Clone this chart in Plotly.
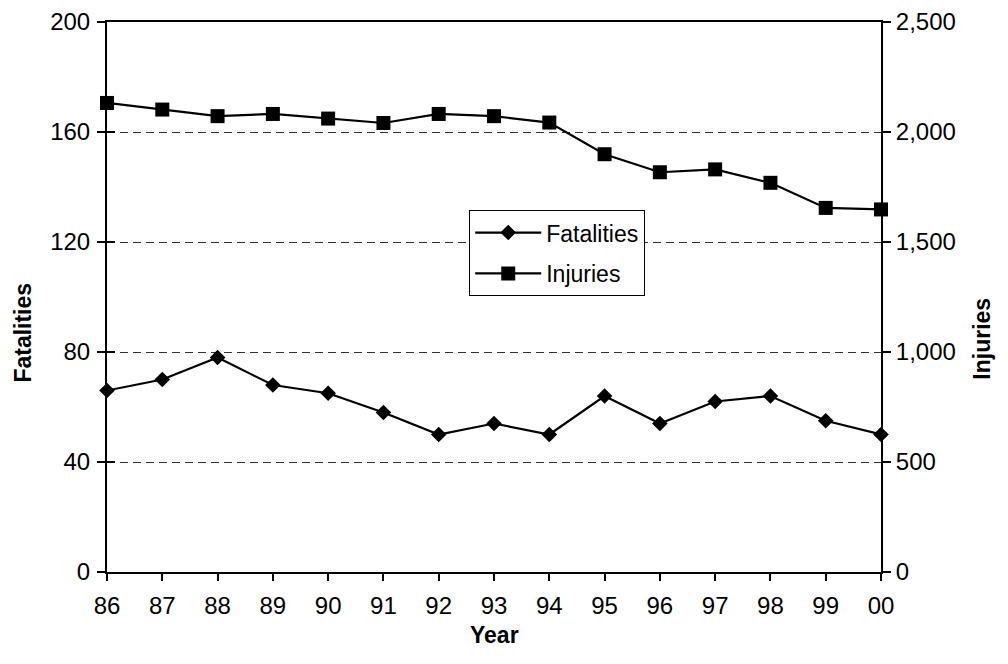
import plotly.graph_objects as go

years = ["86", "87", "88", "89", "90", "91", "92", "93", "94", "95", "96", "97", "98", "99", "00"]
fatalities = [66, 70, 78, 68, 65, 58, 50, 54, 50, 64, 54, 62, 64, 55, 50]
injuries = [2132, 2102, 2072, 2082, 2061, 2041, 2082, 2072, 2043, 1899, 1817, 1830, 1769, 1655, 1648]

fat_ticks = [0, 40, 80, 120, 160, 200]
inj_ticks = [0, 500, 1000, 1500, 2000, 2500]

font = "Liberation Sans, Arial, sans-serif"
TICK = 24
LEG = 23
TIT = 23

fig = go.Figure()
fig.add_trace(go.Scatter(
    x=years, y=fatalities, name="Fatalities", mode="lines+markers",
    line=dict(color="black", width=2.2), legendgroup="f",
    marker=dict(symbol="diamond", size=12, color="black"),
    cliponaxis=False, yaxis="y"))
fig.add_trace(go.Scatter(
    x=years, y=injuries, name="Injuries", mode="lines+markers",
    line=dict(color="black", width=2.2), legendgroup="i",
    marker=dict(symbol="square", size=14, color="black"),
    cliponaxis=False, yaxis="y2"))
# invisible helper trace so the inner half of the left-axis cross ticks is drawn
fig.add_trace(go.Scatter(
    x=years, y=fatalities, mode="lines", line=dict(width=0, color="rgba(0,0,0,0)"),
    showlegend=False, hoverinfo="skip", yaxis="y3"))

fig.update_layout(
    width=1008, height=664,
    margin=dict(l=99, r=135, t=14, b=100),
    paper_bgcolor="white", plot_bgcolor="white",
    font=dict(family=font, size=TICK, color="black"),
    showlegend=True,
    legend=dict(x=0.468, y=0.658, xanchor="left", yanchor="top",
                bordercolor="black", borderwidth=1, bgcolor="white",
                font=dict(size=LEG), itemwidth=66, tracegroupgap=8, traceorder="grouped"),
    xaxis=dict(type="category", range=[0, 14], showline=True, linecolor="black", linewidth=2,
               mirror=True, ticklabelstandoff=4,
               ticks="outside", ticklen=7, tickcolor="black", tickwidth=2, showgrid=False, zeroline=False,
               tickfont=dict(size=TICK), automargin=False),
    yaxis=dict(range=[0, 200], tickvals=fat_ticks, showline=True, linecolor="black", linewidth=2,
               ticks="outside", ticklen=8, tickcolor="black", tickwidth=1.5, tickfont=dict(size=TICK),
               ticklabelstandoff=2,
               showgrid=True, gridcolor="#333333", griddash="8px,5px", gridwidth=1, zeroline=False,
               automargin=False),
    yaxis3=dict(range=[0, 200], tickvals=fat_ticks, overlaying="y", side="left",
                ticks="inside", ticklen=8, tickcolor="black", tickwidth=1.5,
                showticklabels=False, showline=False, showgrid=False, zeroline=False,
                automargin=False),
    yaxis2=dict(range=[0, 2500], tickvals=inj_ticks, tickformat=",d", overlaying="y", side="right",
                showline=True, linecolor="black", linewidth=2, ticks="outside", ticklen=8,
                tickcolor="black", tickwidth=1.5, showgrid=False, zeroline=False, tickfont=dict(size=TICK),
                automargin=False),
    annotations=[
        dict(text="<b>Fatalities</b>", textangle=-90, xref="paper", yref="paper",
             x=-0.108, y=0.436, xanchor="center", yanchor="middle", showarrow=False,
             font=dict(size=TIT)),
        dict(text="<b>Injuries</b>", textangle=-90, xref="paper", yref="paper",
             x=1.131, y=0.425, xanchor="center", yanchor="middle", showarrow=False,
             font=dict(size=TIT)),
        dict(text="<b>Year</b>", xref="paper", yref="paper",
             x=0.5, y=-0.114, xanchor="center", yanchor="middle", showarrow=False,
             font=dict(size=TIT)),
    ],
)

fig.write_html("out.html")
